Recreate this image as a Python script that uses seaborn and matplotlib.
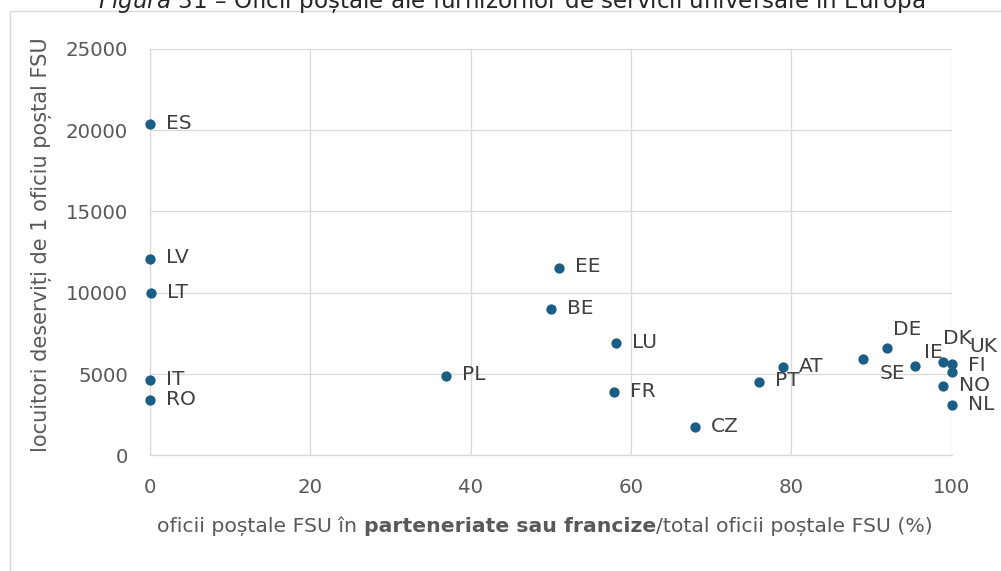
import matplotlib
matplotlib.use("Agg")
from matplotlib import pyplot as plt
from matplotlib.offsetbox import TextArea, HPacker, AnnotationBbox
from matplotlib.patches import Rectangle
import pandas as pd
import seaborn as sns


# valori
tari = ["ES", "LV", "LT", "IT", "RO", "PL", "BE", "EE", "LU", "FR", "CZ",
        "PT", "AT", "SE", "DE", "IE", "DK", "UK", "FI", "NO", "NL"]
procent_parteneriate = [0, 0, 0.15, 0, 0, 36.9, 50.0, 51.0, 58.1, 57.9, 68.0,
                        76.0, 79.0, 88.9, 92.0, 95.4, 99.0, 100, 100, 99.0, 100]
locuitori_per_oficiu = [20350, 12090, 9980, 4630, 3400, 4880, 8980, 11540,
                        6890, 3870, 1720, 4510, 5410, 5920, 6600, 5470, 5720,
                        5600, 5100, 4240, 3090]

x_ticks = [0, 20, 40, 60, 80, 100]
y_ticks = [0, 5000, 10000, 15000, 20000, 25000]

# etichete mutate manual (pixeli fata de punct)
decalaj_default = (16, 0)
decalaje = {"SE": (17, -15), "DE": (6, 17), "IE": (9, 13), "DK": (0, 23),
            "UK": (18, 17), "FI": (17, 6)}

df = pd.DataFrame({"tara": tari, "x": procent_parteneriate,
                   "y": locuitori_per_oficiu})

sns.set_theme(style="white")
plt.rcParams["font.family"] = ["DejaVu Sans"]

fig = plt.figure(figsize=(10.01, 5.71), dpi=100)
ax = fig.add_axes([150 / 1001, 1 - 455.3 / 571, 801.5 / 1001, 406.5 / 571])

sns.scatterplot(data=df, x="x", y="y", ax=ax, color="#1a5e85", s=55,
                linewidth=0, zorder=3)
ax.collections[0].set_clip_on(False)

ax.set_xlim(0, 100)
ax.set_ylim(0, 25000)
ax.set_xticks(x_ticks)
ax.set_yticks(y_ticks)
ax.grid(True, color="#d9d9d9", linewidth=0.9)
ax.set_axisbelow(True)
for s in ["top", "right"]:
    ax.spines[s].set_visible(False)
for s in ["left", "bottom"]:
    ax.spines[s].set_color("#d9d9d9")
    ax.spines[s].set_linewidth(0.9)
ax.tick_params(axis="both", length=0, labelsize=14.2, labelcolor="#595959")
ax.tick_params(axis="y", pad=16)
ax.tick_params(axis="x", pad=16)
ax.set_xlabel("")
ax.set_ylabel("")

for tara, x, y in zip(tari, procent_parteneriate, locuitori_per_oficiu):
    dx, dy = decalaje.get(tara, decalaj_default)
    ax.annotate(tara, (x, y), xytext=(dx, dy + 1), textcoords="offset pixels",
                ha="left", va="center", fontsize=14.5, color="#404040",
                annotation_clip=False)

# titlu axa x cu partea din mijloc ingrosata
stil = dict(fontsize=14.7, color="#595959")
bucati = [TextArea("oficii poștale FSU în ", textprops=stil),
          TextArea("parteneriate sau francize",
                   textprops=dict(stil, fontweight="bold")),
          TextArea("/total oficii poștale FSU (%)", textprops=stil)]
cutie = HPacker(children=bucati, align="baseline", pad=0, sep=0)
fig.add_artist(AnnotationBbox(cutie, (545 / 1001, 1 - 526 / 571),
                              xycoords="figure fraction", frameon=False,
                              box_alignment=(0.5, 0.5)))

fig.text(42 / 1001, 1 - 245 / 571, "locuitori deserviți de 1 oficiu poștal FSU",
         rotation=90, ha="center", va="center", fontsize=15,
         color="#595959")

# chenarul graficului
fig.add_artist(Rectangle((10 / 1001, -0.05), 1.2, 1 - 11 / 571 + 0.05,
                         transform=fig.transFigure, fill=False,
                         edgecolor="#d9d9d9", linewidth=1))

fig.text(512 / 1001, 1 - 8 / 571,
         "$\\it{Figura\\ 31}$ – Oficii poștale ale furnizorilor de servicii "
         "universale în Europa", ha="center", va="baseline", fontsize=16.6,
         color="#262626")

plt.savefig("out.png", dpi=100)
